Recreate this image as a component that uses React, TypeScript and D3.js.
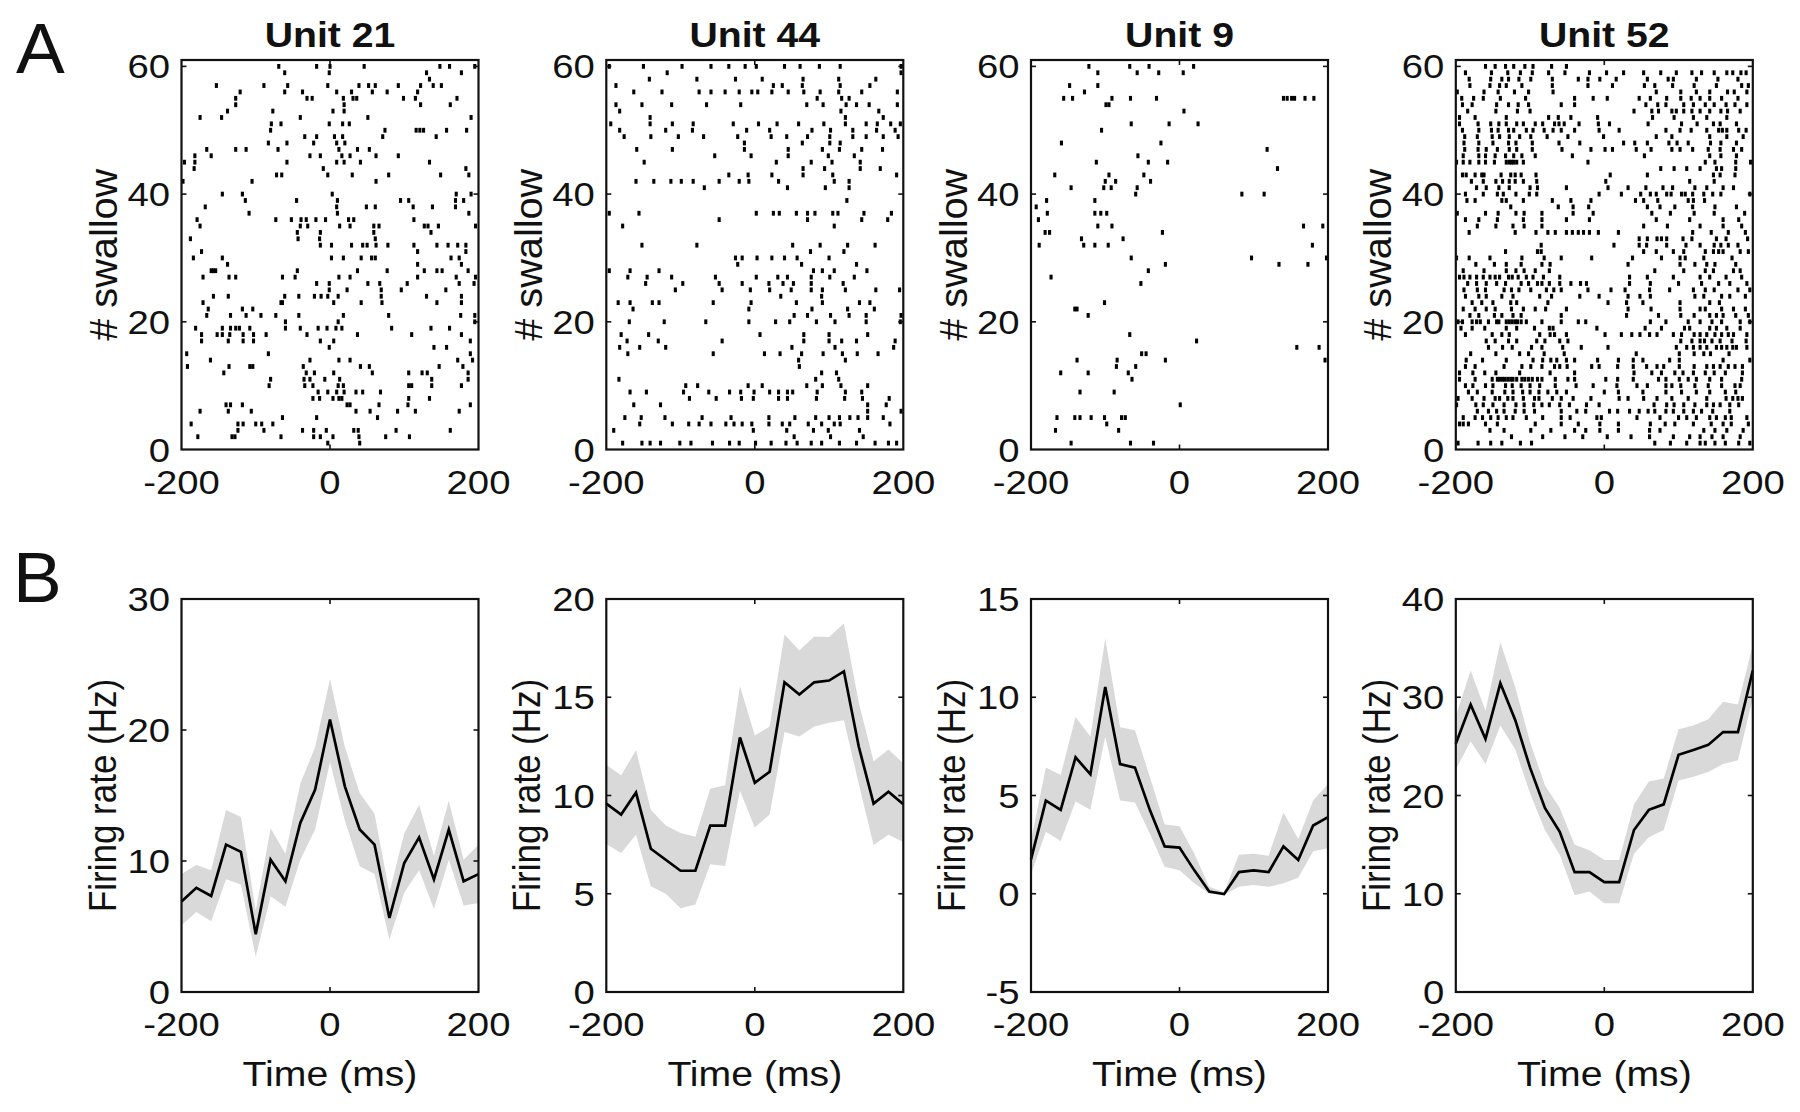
import React from 'react';
import * as d3 from 'd3';

type Trial = [number, number[]];

// ---------- Raster data: [trial #, spike times (ms)] ----------
const unit21Spikes: Trial[] = [
  [60, [-69, -18, 0, 46, 148, 161, 195]],
  [59, [-61, -1, 130, 177]],
  [58, [134]],
  [57, [-153, -89, -57, -3, 39, 52, 61, 92, 122, 139, 150]],
  [56, [-121, -61, -37, 9, 29, 57, 77, 118]],
  [55, [-127, -31, -24, 18, 31, 36, 99, 115, 171]],
  [54, [-127, 19, 122, 162]],
  [53, [-138, -77, 4, 19]],
  [52, [-175, -146, -40, 51, 190]],
  [51, [-79, -66, -1, 17, 26]],
  [50, [-80, 74, 116, 121, 126, 157, 184]],
  [49, [-34, -18, 6, 17, 71, 143]],
  [48, [-83, -58, -22, 9, 20]],
  [47, [-166, -127, -113, -70, 12, 37, 53]],
  [46, [-182, -160, -27, -13, 16, 27, 62, 92]],
  [45, [-196, -182, -58, 9, 19, 41, 134]],
  [44, [-183, -9, 183]],
  [43, [-72, -65, -3, 30, 79, 149, 187]],
  [42, [-198, -105, 62]],
  [40, [-145, -118, 3, 170, 190]],
  [39, [-114, -45, 10, 95, 106, 169, 180]],
  [38, [-168, 9, 49, 61, 112, 138, 169]],
  [37, [-109, 10, 187]],
  [36, [-179, -73, -52, -39, -32, -19, -6, 25, 32, 113]],
  [35, [-175, -40, -30, 13, 27, 59, 66, 127, 132, 146, 196]],
  [34, [-44, -13, 59, 136]],
  [33, [-188, -43, -14, 61]],
  [32, [-13, 2, 29, 44, 50, 62, 78, 113, 144, 159, 172, 183]],
  [31, [-173, 118, 183]],
  [30, [-184, -145, 2, 18, 42, 56, 61, 163, 174]],
  [29, [-138, 118, 177]],
  [28, [-160, -157, -154, -44, 37, 77, 127, 144, 151, 186]],
  [27, [-171, -136, -127, -64, -47, 12, 27, 118, 170, 196]],
  [26, [-18, -1, 51, 67, 104, 174, 194]],
  [25, [-1, 23, 69, 96, 156]],
  [24, [-157, -137, -61, -42, -21, -12, -3, 11, 69, 130, 177]],
  [23, [-171, -66, -64, 5, 42, 70, 144, 177]],
  [22, [-164, -118, -104]],
  [21, [-166, -134, -113, -93, -73, -42, 18, 79, 176, 195]],
  [20, [-60, 11, 195]],
  [19, [-181, -145, -134, -127, -122, -108, -60, -40, -16, -4, 8, 16, 83, 136, 161]],
  [18, [-173, -152, -145, -135, -117, -103, -86, -31, 37, 110, 177]],
  [17, [-173, -137, -117, -103, -13, 5, 189]],
  [16, [-1, 140, 157]],
  [15, [-193, -83, 189]],
  [14, [-161, -27, 12, 27, 172, 192]],
  [13, [-192, -136, -108, -104, -36, 41, 53, 147, 179]],
  [12, [-143, -32, -21, 5, 57, 106, 124, 131, 186]],
  [11, [-80, -35, -27, -7, 13, 137, 186]],
  [10, [-82, -34, -23, 11, 18, 106, 110, 137, 177]],
  [9, [-16, -3, 9, 19, 35, 44, 68]],
  [8, [-23, -14, 4, 12, 16, 106, 134]],
  [7, [-140, -134, -118, 23, 27, 66, 105, 189]],
  [6, [-175, -137, -106, 35, 54, 91, 115, 174]],
  [5, [-64, -18, 64]],
  [4, [-187, -124, -117, -100, -92, -77]],
  [3, [-124, -89, -37, -22, -5, 32, 38, 89, 162]],
  [2, [-178, -132, -128, -66, -22, -13, 4, 39, 75, 107]],
  [1, [-3, 40]],
];

const unit44Spikes: Trial[] = [
  [60, [-196, -150, -98, -59, -35, -13, 2, 40, 61, 87, 115, 197]],
  [59, [-118, 197]],
  [58, [-142, -78, -26, 10, 65, 113, 163]],
  [57, [-187, 25, 37, 64, 115, 155]],
  [56, [-163, -125, -75, -59, -40, -21, -4, 4, 23, 45, 66, 88, 113, 144, 192]],
  [55, [84, 117, 127]],
  [54, [-187, -152, -112, -65, -19, 70, 92, 123, 137, 154, 192]],
  [53, [-182, 116, 167]],
  [52, [-141, 122, 173]],
  [51, [-194, -141, -111, -83, -29, 5, 30, 59, 93, 122, 150, 165, 183, 196]],
  [50, [-182, -120, -84, -11, 20, 77, 102, 132, 164, 189]],
  [49, [-176, -140, -103, -69, -23, 22, 43, 71, 101, 132, 150, 173, 193]],
  [48, [-14, 64, 101, 115]],
  [47, [-159, -111, -14, 45, 91, 114, 144, 172]],
  [46, [-54, -5, 45, 99, 134]],
  [45, [-149, 29, 76, 104, 142]],
  [44, [65, 94, 142, 169]],
  [43, [-35, -9, 23, 65, 105, 191]],
  [42, [-160, -136, -113, -99, -83, -48, -21, -8, 32, 107, 127]],
  [41, [-68, 44, 95, 127]],
  [39, [124]],
  [37, [-196, -156, 2, 25, 33, 56, 71, 81, 105, 112, 147, 184]],
  [36, [-48, 71, 144, 179]],
  [35, [-178, 107]],
  [32, [-152, -78, 51, 88, 125, 162]],
  [31, [75, 120]],
  [30, [-26, -17, 3, 23, 40, 57, 100]],
  [29, [-23, 63, 137]],
  [28, [-196, -168, -129, 79, 91, 107, 151]],
  [27, [-171, -145, -112, -53, 2, 31, 44, 76, 101, 134]],
  [26, [-147, -97, -48, -17, 19, 38, 52, 76, 119]],
  [25, [-107, -44, -6, 20, 49, 76, 91, 122, 163, 195]],
  [24, [35, 90]],
  [23, [-184, -168, -138, -129, -56, -5, 56, 91, 141, 155]],
  [22, [-164, -8, 77, 125, 161]],
  [21, [53, 71, 102, 127, 150, 197]],
  [20, [-169, -122, -66, -8, 28, 47, 83, 108, 150, 196]],
  [18, [-180, -143, 7, 66, 100, 152]],
  [17, [-172, -130, -44, 66, 100, 117, 137, 189]],
  [16, [-182, -155, -120, 50, 108, 187]],
  [15, [-171, -56, 13, 34, 63, 92, 118, 138, 166]],
  [14, [59, 122]],
  [13, [60]],
  [12, [90, 110]],
  [11, [-183, 82, 113]],
  [10, [-93, -77, -9, 10, 70, 91, 116, 152]],
  [9, [-168, -146, -96, -62, -34, -19, -1, 20, 32, 44, 51, 84, 122, 144]],
  [8, [-88, -52, -18, -2, 32, 44, 83, 121, 145, 181]],
  [7, [-163, -127, 152, 177]],
  [6, [152, 197]],
  [5, [-175, -153, -121, -71, -32, 19, 54, 82, 100, 114, 128, 139, 152, 173]],
  [4, [-155, -111, -89, -75, -59, -39, -28, -17, -4, 19, 37, 47, 72, 90, 107, 115, 182]],
  [3, [-190, -2, 43, 79, 99, 141]],
  [2, [53, 102, 146]],
  [1, [-178, -152, -141, -127, -101, -86, -57, -34, -21, 1, 22, 42, 57, 76, 90, 114, 137, 162, 180, 191]],
];

const unit9Spikes: Trial[] = [
  [60, [-122, -67, -41, 19]],
  [59, [-110, -57, -28, 5]],
  [57, [-148, -110]],
  [56, [-128]],
  [55, [-156, -144, -91, -66, -31, 140, 145, 151, 155, 169, 181]],
  [54, [-99, -95]],
  [53, [6]],
  [51, [-65, -14, 25]],
  [50, [-105]],
  [48, [-159, -25]],
  [47, [118]],
  [46, [-56]],
  [45, [-112, -42, -16]],
  [44, [132]],
  [43, [-168, -95, -48]],
  [42, [-100, -86, -39]],
  [41, [-146, -102, -92, -57]],
  [40, [-59, 84, 114]],
  [39, [-179, -114]],
  [38, [-193]],
  [37, [-178, -114, -106, -98]],
  [36, [-190]],
  [35, [-110, -91, 167, 193]],
  [34, [-181, -175, -23]],
  [33, [-132, -76]],
  [32, [-189, -129, -114, -96, 179]],
  [30, [-65, 97, 198]],
  [29, [-19, 134, 173]],
  [28, [-42]],
  [27, [-173]],
  [26, [-52]],
  [23, [-101]],
  [22, [-141, -138]],
  [21, [-123]],
  [18, [-67]],
  [17, [23]],
  [16, [158, 188]],
  [15, [-51, -45]],
  [14, [-138, -84, -19, 196]],
  [13, [-85, -59]],
  [12, [-160, -123, -69]],
  [11, [-64]],
  [9, [-134, -88]],
  [7, [1]],
  [5, [-165, -141, -134, -119, -101, -78, -73]],
  [4, [-98]],
  [3, [-167, -82]],
  [1, [-146, -66, -35]],
];

const unit52Spikes: Trial[] = [
  [60, [-160, -147, -133, -122, -107, -96, -71, -51]],
  [59, [-187, -152, -130, -113, -97, -75, -53, -20, 3, 26, 53, 76, 97, 118, 131, 148, 165, 173, 184, 191]],
  [58, [-182, -153, -138, -129, -115, -99, -70, -35, -22, -6, 16, 58, 86, 93, 124, 153, 180]],
  [57, [-181, -154, -141, -132, -111, -70, -22, 11, 54, 68, 92, 121, 151, 185, 194]],
  [56, [-198, -162, -143, -121, -102, -69, 70, 103, 124, 142, 166, 175, 192]],
  [55, [-192, -176, -163, -140, -106, -40, -15, 4, 47, 62, 84, 103, 117, 129, 142, 158, 180]],
  [54, [-191, -178, -145, -129, -116, -102, -58, -40, 56, 72, 83, 107, 120, 136, 148, 164, 176, 192]],
  [53, [-184, -146, -117, -100, 40, 64, 73, 91, 97, 107, 118, 129, 142, 157, 166, 183]],
  [52, [-195, -174, -132, -75, -62, -45, -9, 65, 94, 120, 138, 165]],
  [51, [-195, -170, -153, -142, -132, -118, -109, -93, -83, -67, -61, -54, -34, -8, 7, 59, 104, 125, 147, 156, 178]],
  [50, [-191, -169, -152, -143, -129, -122, -105, -96, -81, -69, -58, -40, -7, 20, 83, 102, 117, 138, 154, 159, 165, 181, 191]],
  [49, [-188, -171, -151, -141, -128, -114, -99, -77, -49, -1, 70, 91, 142, 165, 187]],
  [48, [-189, -169, -150, -129, -119, -97, -61, -33, 26, 41, 58, 87, 98, 113, 143, 157, 178]],
  [47, [-188, -170, -159, -144, -128, -118, -97, -57, -18, 1, 11, 43, 63, 91, 102, 119, 140, 156, 174, 185]],
  [46, [-190, -169, -160, -147, -133, -122, -111, -93, -43, 54, 142, 157, 178]],
  [45, [-199, -190, -181, -169, -160, -148, -132, -128, -125, -122, -118, -109, -22, 136, 149, 177, 197]],
  [44, [76, 94, 111, 129, 151, 158, 177]],
  [43, [-191, -186, -174, -165, -162, -139, -126, -120, -112, -92, 8, 58, 147, 156, 176]],
  [42, [-179, -163, -146, -137, -128, -120, -109, -91, 2, 115, 148]],
  [41, [-172, -159, -142, -128, -100, -90, -51, 5, 32, 56, 79, 92, 122, 138, 160, 174]],
  [40, [-187, -163, -144, -136, -119, -101, -91, -7, 23, 49, 62, 70, 84, 90, 104, 109, 119, 134, 146, 157, 196]],
  [39, [-185, -174, -138, -132, -109, -70, -45, -18, 42, 53, 72, 113, 120, 135]],
  [38, [-126, -62, -42, -21, 58, 75, 95, 119, 149, 178]],
  [37, [-198, -160, -143, -119, -108, -84, -42, -15, 64, 89, 121, 148, 189]],
  [36, [-187, -169, -144, -109, -84, -51, -20, 70, 115, 160, 181]],
  [35, [-171, -146, -123, -108, -84, 53, 85, 129, 160, 185]],
  [34, [-182, -120, -92, -76, -66, -51, -43, -35, -28, -20, -8, 19, 119, 144, 167, 190]],
  [33, [47, 58, 71, 77, 84, 106, 118, 151, 164, 193]],
  [32, [-85, 13, 47, 57, 84, 110, 129, 148, 157, 167, 180]],
  [31, [-133, -90, -85, 53, 70, 93, 107, 136, 147, 154, 160, 183, 194]],
  [30, [-199, -182, -154, -111, -81, -58, -17, 38, 77, 102, 109, 134, 172]],
  [29, [-173, -148, -132, -112, -84, -73, 32, 102, 122, 138, 149, 177]],
  [28, [-190, -162, -132, -119, -108, -93, -74, 68, 107, 136, 147, 174, 183]],
  [27, [-195, -189, -181, -172, -163, -154, -147, -141, -129, -124, -116, -105, -96, -82, -60, 34, 58, 93, 129, 142, 164, 185]],
  [26, [-184, -172, -159, -145, -133, -112, -102, -90, -84, -74, -60, -45, -32, -24, 34, 62, 100, 131, 154, 169, 192]],
  [25, [-189, -171, -160, -135, -125, -115, -99, -78, -68, -58, -22, 9, 28, 61, 88, 120, 136, 148, 180, 196]],
  [24, [-187, -169, -159, -138, -123, -87, -71, -33, -7, 32, 48, 62, 122, 134, 158, 169, 190]],
  [23, [-178, -165, -150, -126, -118, -76, 5, 30, 52, 102, 142, 155]],
  [22, [-190, -174, -159, -147, -125, -109, -93, -79, -51, 32, 63, 102, 129, 136, 158, 174, 190]],
  [21, [-181, -169, -148, -138, -123, -112, -58, 30, 73, 103, 121, 142, 151, 160, 177, 194]],
  [20, [-197, -191, -178, -172, -167, -156, -145, -142, -132, -128, -124, -120, -117, -112, -105, -84, -58, -35, -25, 62, 83, 113, 129, 145, 158, 183, 196]],
  [19, [-193, -178, -161, -132, -118, -94, -74, -69, -10, 55, 77, 108, 115, 142, 151, 165, 183]],
  [18, [-187, -151, -138, -128, -87, -73, -67, -51, 1, 23, 37, 48, 61, 71, 93, 104, 121, 129, 138, 149, 158, 167, 174, 192]],
  [17, [-159, -147, -129, -118, -91, -80, -60, -49, 103, 118, 129, 135, 145, 156, 172, 191]],
  [16, [-156, -137, -124, -98, -84, -56, -31, 5, 97, 111, 120, 129, 138, 151, 158, 165, 173, 178, 192]],
  [15, [-180, -146, -114, -102, -81, -54, 43, 101, 121, 134, 143, 168]],
  [14, [-186, -164, -132, -96, -83, -72, -64, -51, -40, -9, 19, 39, 52, 88, 101, 160, 196]],
  [13, [-187, -174, -135, -111, -99, -84, -67, -60, -50, -17, -7, 18, 39, 57, 71, 80, 101, 121, 138, 147, 156, 167, 176, 186]],
  [12, [-195, -177, -161, -146, -114, -73, -40, 40, 64, 77, 95, 106, 120, 136, 148, 163, 186]],
  [11, [-195, -174, -151, -144, -141, -137, -134, -130, -126, -123, -118, -111, -107, -102, -97, -90, -84, -66, -49, -40, 2, 18, 39, 73, 83, 101, 113, 124, 142, 158, 185]],
  [10, [-187, -177, -160, -150, -133, -124, -112, -100, -87, -66, -38, -15, 17, 44, 58, 83, 91, 103, 122, 140, 158, 176, 183]],
  [9, [-183, -171, -151, -134, -123, -110, -100, -88, -76, -64, -51, 0, 19, 52, 83, 104, 124, 142, 163, 177]],
  [8, [-197, -178, -162, -147, -141, -130, -123, -109, -94, -88, -70, -58, -42, -18, 20, 32, 53, 71, 91, 113, 138, 164, 173, 180, 186]],
  [7, [-199, -173, -163, -150, -135, -119, -108, -95, -84, -74, -60, -47, -24, -7, 67, 84, 94, 107, 122, 138, 147, 156, 169, 181]],
  [6, [-171, -156, -145, -135, -120, -108, -94, -58, -37, -25, 7, 18, 34, 47, 59, 68, 83, 93, 107, 120, 131, 146, 169]],
  [5, [-190, -174, -164, -153, -143, -132, -123, -105, -83, -58, -46, -10, -4, 44, 75, 100, 111, 124, 142, 151, 163, 171, 192]],
  [4, [-195, -190, -183, -160, -144, -93, -58, -35, -6, 19, 62, 82, 95, 120, 144, 160, 171, 194]],
  [3, [-154, -135, -99, -72, -40, -25, -6, 19, 61, 75, 134, 149, 165, 187]],
  [2, [-125, -83, -53, -29, 4, 36, 61, 93, 115, 129, 145, 160, 183]],
  [1, [-197, -170, -153, -138, -113, -98, 68, 89, 111, 129, 136, 149, 163, 181, 196]],
];

// ---------- Firing-rate data ----------
const timeBins = [-200, -180, -160, -140, -120, -100, -80, -60, -40, -20, 0, 20, 40, 60, 80, 100, 120, 140, 160, 180, 200];

const unit21Mean = [6.9, 7.95, 7.33, 11.25, 10.7, 4.4, 10.1, 8.45, 12.9, 15.45, 20.8, 15.7, 12.4, 11.25, 5.65, 9.85, 11.8, 8.6, 12.4, 8.45, 9.0];
const unit21Upper = [9.0, 9.7, 9.3, 13.9, 13.35, 6.2, 12.5, 10.55, 15.9, 18.7, 23.9, 18.7, 15.2, 13.6, 7.6, 12.1, 14.3, 10.4, 14.6, 10.1, 11.25];
const unit21Lower = [5.1, 6.1, 5.4, 8.6, 8.2, 2.7, 7.3, 6.5, 10.1, 12.4, 17.55, 13.1, 9.6, 9.0, 4.0, 7.6, 9.3, 6.35, 10.1, 6.6, 6.8];

const unit44Mean = [9.59, 9.03, 10.15, 7.29, 6.73, 6.17, 6.17, 8.47, 8.47, 12.95, 10.65, 11.21, 15.76, 15.14, 15.76, 15.85, 16.32, 12.49, 9.59, 10.19, 9.55];
const unit44Upper = [11.55, 11.03, 12.3, 9.27, 8.47, 8.09, 7.9, 10.34, 10.52, 15.57, 13.05, 13.51, 18.19, 17.38, 18.09, 18.06, 18.75, 14.73, 11.74, 12.34, 11.64];
const unit44Lower = [7.53, 7.07, 8.0, 5.38, 5.0, 4.26, 4.45, 6.5, 6.41, 10.24, 8.37, 9.03, 13.23, 13.0, 13.51, 13.7, 13.83, 10.6, 7.48, 8.0, 7.63];

const unit9Mean = [1.75, 4.74, 4.27, 6.94, 6.08, 10.52, 6.6, 6.42, 4.27, 2.41, 2.35, 1.19, 0.11, -0.02, 1.1, 1.19, 1.1, 2.41, 1.72, 3.47, 3.9];
const unit9Upper = [2.69, 6.42, 6.04, 8.99, 8.0, 12.99, 8.47, 8.32, 5.95, 3.53, 3.43, 2.03, 0.35, 0.07, 1.98, 2.03, 1.94, 4.14, 2.78, 4.74, 5.58];
const unit9Lower = [1.0, 3.15, 2.69, 4.7, 4.27, 8.0, 4.74, 4.65, 3.06, 1.38, 1.19, 0.54, 0.0, -0.05, 0.35, 0.45, 0.35, 0.54, 0.82, 2.16, 2.31];

const unit52Mean = [25.26, 29.25, 25.75, 31.42, 27.69, 22.84, 18.73, 16.31, 12.2, 12.2, 11.19, 11.19, 16.49, 18.54, 19.1, 24.14, 24.63, 25.15, 26.46, 26.46, 32.72];
const unit52Upper = [28.06, 32.72, 28.62, 35.6, 31.04, 25.45, 21.04, 18.73, 15.0, 14.44, 13.43, 13.43, 19.1, 21.42, 21.72, 26.75, 27.13, 27.76, 29.55, 29.25, 35.34];
const unit52Lower = [22.65, 25.52, 23.2, 27.13, 24.7, 20.22, 16.49, 13.96, 9.85, 10.22, 9.03, 9.03, 14.07, 15.75, 16.49, 21.53, 21.9, 22.39, 23.2, 23.58, 29.93];

// ---------- Axis settings ----------
const unitTitles = ['Unit 21', 'Unit 44', 'Unit 9', 'Unit 52'];
const timeTicks = [-200, 0, 200];
const swallowTicks = [0, 20, 40, 60];
const swallowDomain: [number, number] = [0, 61];
const rateDomains: [number, number][] = [[0, 30], [0, 20], [-5, 15], [0, 40]];
const rateTicks = [[0, 10, 20, 30], [0, 5, 10, 15, 20], [-5, 0, 5, 10, 15], [0, 10, 20, 30, 40]];

const rasters = [unit21Spikes, unit44Spikes, unit9Spikes, unit52Spikes];
const rates = [
  { mean: unit21Mean, upper: unit21Upper, lower: unit21Lower },
  { mean: unit44Mean, upper: unit44Upper, lower: unit44Lower },
  { mean: unit9Mean, upper: unit9Upper, lower: unit9Lower },
  { mean: unit52Mean, upper: unit52Upper, lower: unit52Lower },
];

// ---------- Layout ----------
const FONT = '"Liberation Sans", Arial, Helvetica, sans-serif';
const INK = '#111111';
const SX = 1.12;
const TICK_SX = 1.16;
const PANEL_LEFTS = [181.5, 606.3, 1031, 1455.8];
const PANEL_W = 297;
const A_TOP = 60;
const A_BOTTOM = 449.5;
const B_TOP = 599;
const B_BOTTOM = 992;
const TICK_LEN = 5;
const YLABEL_OFFSET = 66;

function Txt(props: {
  x: number; y: number; size: number; anchor?: string; weight?: number | string;
  rotate?: boolean; sx?: number; textLength?: number; children: React.ReactNode;
}) {
  const { x, y, size, anchor = 'middle', weight = 400, rotate = false, sx = SX, textLength, children } = props;
  const tr = rotate
    ? `translate(${x},${y}) scale(${sx},1) rotate(-90)`
    : `translate(${x},${y}) scale(${sx},1)`;
  const extra: any = {};
  if (textLength) {
    extra.textLength = textLength;
    extra.lengthAdjust = 'spacingAndGlyphs';
  }
  return (
    <text transform={tr} fontSize={size} textAnchor={anchor as any} fontWeight={weight}
      fontFamily={FONT} fill={INK} {...extra}>
      {children}
    </text>
  );
}

function Frame(props: {
  left: number; top: number; bottom: number;
  x: d3.ScaleLinear<number, number>; y: d3.ScaleLinear<number, number>;
  yTicks: number[];
}) {
  const { left, top, bottom, x, y, yTicks } = props;
  const right = left + PANEL_W;
  const [y0, y1] = y.domain();
  return (
    <g>
      {timeTicks.filter(t => t !== -200 && t !== 200).map(t => (
        <g key={'xt' + t}>
          <line x1={x(t)} x2={x(t)} y1={bottom} y2={bottom - TICK_LEN} stroke={INK} strokeWidth={1.6} />
          <line x1={x(t)} x2={x(t)} y1={top} y2={top + TICK_LEN} stroke={INK} strokeWidth={1.6} />
        </g>
      ))}
      {yTicks.filter(v => v !== y0 && v !== y1).map(v => (
        <g key={'yt' + v}>
          <line x1={left} x2={left + TICK_LEN} y1={y(v)} y2={y(v)} stroke={INK} strokeWidth={1.6} />
          <line x1={right} x2={right - TICK_LEN} y1={y(v)} y2={y(v)} stroke={INK} strokeWidth={1.6} />
        </g>
      ))}
      <rect x={left} y={top} width={PANEL_W} height={bottom - top} fill="none" stroke={INK} strokeWidth={2.2} />
      {timeTicks.map(t => (
        <Txt key={'xl' + t} x={x(t)} y={bottom + 44} size={33} sx={TICK_SX}>{String(t)}</Txt>
      ))}
      {yTicks.map(v => (
        <Txt key={'yl' + v} x={left - 11.5} y={y(v) + 12} size={33} anchor="end" sx={TICK_SX}>{String(v)}</Txt>
      ))}
    </g>
  );
}

function RasterPanel({ i }: { i: number }) {
  const left = PANEL_LEFTS[i];
  const x = d3.scaleLinear().domain([-200, 200]).range([left, left + PANEL_W]);
  const y = d3.scaleLinear().domain(swallowDomain).range([A_BOTTOM, A_TOP]);
  const trials = rasters[i];
  const dw = 3.1, dh = 4.8;
  return (
    <g>
      <g fill="#000">
        {trials.flatMap(([row, times]) =>
          times.map((t, k) => (
            <rect key={row + '-' + k} x={x(t) - dw / 2} y={y(row) - dh / 2} width={dw} height={dh} />
          ))
        )}
      </g>
      <Frame left={left} top={A_TOP} bottom={A_BOTTOM} x={x} y={y} yTicks={swallowTicks} />
      <Txt x={left + PANEL_W / 2} y={46.5} size={35} weight={700}>{unitTitles[i]}</Txt>
      <Txt x={left - YLABEL_OFFSET + 1.5} y={(A_TOP + A_BOTTOM) / 2} size={35} anchor="middle" rotate textLength={172}># swallow</Txt>
    </g>
  );
}

function RatePanel({ i }: { i: number }) {
  const left = PANEL_LEFTS[i];
  const x = d3.scaleLinear().domain([-200, 200]).range([left, left + PANEL_W]);
  const y = d3.scaleLinear().domain(rateDomains[i]).range([B_BOTTOM, B_TOP]);
  const r = rates[i];
  const idx = timeBins.map((_, k) => k);
  const area = d3.area<number>()
    .x(k => x(timeBins[k]))
    .y0(k => y(r.lower[k]))
    .y1(k => y(r.upper[k]));
  const line = d3.line<number>()
    .x(k => x(timeBins[k]))
    .y(k => y(r.mean[k]));
  return (
    <g>
      <path d={area(idx) || ''} fill="#d9d9d9" stroke="none" />
      <path d={line(idx) || ''} fill="none" stroke="#000" strokeWidth={2.7} strokeLinejoin="miter" />
      <Frame left={left} top={B_TOP} bottom={B_BOTTOM} x={x} y={y} yTicks={rateTicks[i]} />
      <Txt x={left + PANEL_W / 2} y={B_BOTTOM + 94} size={35}>Time (ms)</Txt>
      <Txt x={left - YLABEL_OFFSET} y={(B_TOP + B_BOTTOM) / 2} size={35} anchor="middle" rotate>Firing rate (Hz)</Txt>
    </g>
  );
}

export default function App() {
  return (
    <svg width={1800} height={1112} viewBox="0 0 1800 1112"
      style={{ position: 'absolute', left: 0, top: 0, background: '#fff' }}>
      <rect x={0} y={0} width={1800} height={1112} fill="#fff" />
      <Txt x={16} y={73} size={71} anchor="start" sx={1.03}>A</Txt>
      <Txt x={13} y={601.5} size={71} anchor="start" sx={1.03}>B</Txt>
      {[0, 1, 2, 3].map(i => <RasterPanel key={'r' + i} i={i} />)}
      {[0, 1, 2, 3].map(i => <RatePanel key={'p' + i} i={i} />)}
    </svg>
  );
}
